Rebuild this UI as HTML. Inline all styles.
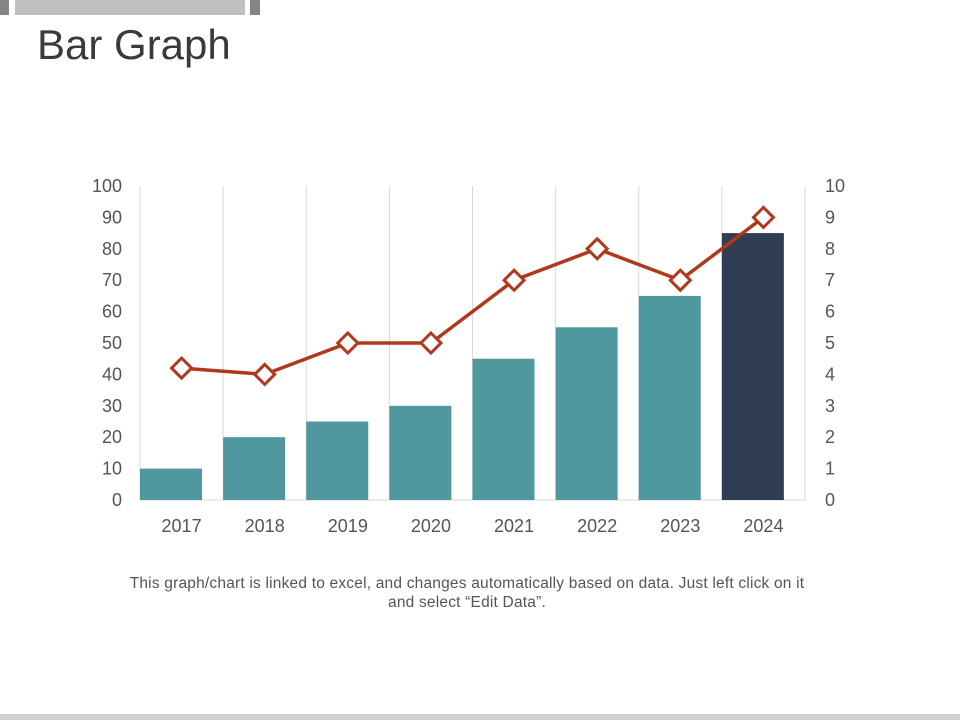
<!DOCTYPE html>
<html><head><meta charset="utf-8"><style>
body{margin:0;width:960px;height:720px;background:#fff;font-family:"Liberation Sans",sans-serif;position:relative;overflow:hidden}
.abs{position:absolute}
</style></head><body>
<div class="abs" style="left:0;top:0;width:9px;height:15px;background:#858585"></div>
<div class="abs" style="left:15px;top:0;width:230px;height:15px;background:#c0c0c0"></div>
<div class="abs" style="left:250px;top:0;width:10px;height:15px;background:#858585"></div>
<div class="abs" style="left:37px;top:21px;font-size:42px;color:#3a3a3a">Bar Graph</div>
<svg class="abs" style="left:0;top:0" width="960" height="720">
<g id="g"></g>
</svg>
<div class="abs" style="left:67px;top:574px;width:800px;text-align:center;font-size:15.5px;letter-spacing:0.2px;line-height:19px;color:#555">This graph/chart is linked to excel, and changes automatically based on data. Just left click on it<br>and select “Edit Data”.</div>
<div class="abs" style="left:0;top:714px;width:960px;height:6px;background:#d0d0d0"></div>
<script>
const categories=["2017","2018","2019","2020","2021","2022","2023","2024"];
const barValues=[10,20,25,30,45,55,65,85];
const lineValues=[4.2,4.0,5,5,7,8,7,9];
const leftTicks=[0,10,20,30,40,50,60,70,80,90,100];
const rightTicks=[0,1,2,3,4,5,6,7,8,9,10];
const NS="http://www.w3.org/2000/svg";
const g=document.getElementById('g');
const x0=140,x1=805,yTop=186,yBot=500;
const bw=(x1-x0)/categories.length;
const yL=v=>yBot-(v/100)*(yBot-yTop);
const yR=v=>yBot-(v/10)*(yBot-yTop);
const xc=i=>x0+bw*(i+0.5);
function mk(t,a){const e=document.createElementNS(NS,t);for(const k in a)e.setAttribute(k,a[k]);g.appendChild(e);return e;}
for(let i=0;i<=categories.length;i++){
  const l=mk('line',{x1:x0+bw*i,x2:x0+bw*i,y1:yTop,y2:yBot,stroke:'#d9d9d9','stroke-width':1});
  
  
}
const ax=mk('line',{x1:x0,x2:x1,y1:yBot,y2:yBot,stroke:'#d9d9d9'});


leftTicks.forEach(v=>{const t=mk('text',{x:122,y:yL(v)+6,'text-anchor':'end','font-size':18,fill:'#555'});t.textContent=v;
  
  });
rightTicks.forEach(v=>{const t=mk('text',{x:825,y:yR(v)+6,'font-size':18,fill:'#555'});t.textContent=v;
  
  });
categories.forEach((c,i)=>{
  const b=mk('rect',{x:x0+bw*i,y:yL(barValues[i]),width:62,height:yBot-yL(barValues[i]),fill:i===categories.length-1?'#2f3e54':'#4f989e'});
  
  
  const t=mk('text',{x:xc(i),y:532,'text-anchor':'middle','font-size':18,fill:'#555'});t.textContent=c;
  
  
});
const pl=mk('polyline',{points:lineValues.map((v,i)=>xc(i)+','+yR(v)).join(' '),fill:'none',stroke:'#b0381c','stroke-width':3.5});


lineValues.forEach((v,i)=>{
  const x=xc(i),y=yR(v),s=10;
  const p=mk('polygon',{points:`${x},${y-s} ${x+s},${y} ${x},${y+s} ${x-s},${y}`,fill:'#fff',stroke:'#b0381c','stroke-width':3});
  
  
});
</script>
</body></html>
